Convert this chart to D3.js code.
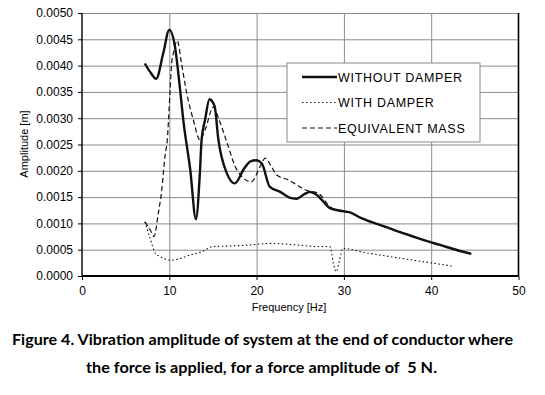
<!DOCTYPE html>
<html>
<head>
<meta charset="utf-8">
<script src="https://cdn.jsdelivr.net/npm/d3@7"></script>
<style>
  body { margin: 0; background: #fff; }
  svg { display: block; }
  .tick text { font-family: "Liberation Sans", Arial, sans-serif; font-size: 12px; fill: #000; }
  .caption { white-space: pre; }
</style>
</head>
<body>
<svg width="545" height="395"></svg>
<script>
// series: frequency [Hz] and amplitude [m]
const noDamperF = [7.2, 7.8, 8.5, 9.3, 10.0, 10.65, 11.2, 11.6, 12.4, 13.05, 13.5, 13.7, 14.1, 14.6, 15.2, 15.6, 16.6, 17.5, 18.6, 19.3, 20.0, 20.6, 21.5, 22.7, 24.0, 24.6, 25.4, 26.1, 26.9, 28.4, 29.6, 30.7, 32.0, 34.1, 36.0, 37.6, 39.0, 41.0, 43.0, 44.6];
const noDamperA = [0.00404, 0.00388, 0.00375, 0.00423, 0.00468, 0.00436, 0.0036, 0.00297, 0.00202, 0.00108, 0.00195, 0.00259, 0.00297, 0.00336, 0.00322, 0.00262, 0.00195, 0.00176, 0.00205, 0.00218, 0.0022, 0.00214, 0.0017, 0.0016, 0.00148, 0.00147, 0.00155, 0.0016, 0.00154, 0.00129, 0.00124, 0.00121, 0.0011, 0.00097, 0.00086, 0.00077, 0.00069, 0.00059, 0.00049, 0.00042];

const damperF = [7.2, 7.8, 8.4, 8.95, 10.1, 11.2, 12.4, 13.7, 15.0, 17.0, 19.2, 21.5, 24.6, 27.0, 28.4, 28.8, 29.1, 29.5, 29.9, 30.2, 30.7, 32.0, 34.1, 36.0, 37.95, 40.0, 42.35];
const damperA = [0.00103, 0.00072, 0.00043, 0.00037, 0.0003, 0.00033, 0.0004, 0.00046, 0.00056, 0.00057, 0.00059, 0.00062, 0.00059, 0.00056, 0.00056, 0.00024, 0.00008, 0.0003, 0.00053, 0.00052, 0.00051, 0.00046, 0.0004, 0.00035, 0.0003, 0.00025, 0.00019];

const equivF = [7.2, 7.8, 8.25, 8.74, 9.13, 9.5, 9.77, 10.08, 10.27, 10.46, 10.92, 11.4, 12.0, 12.75, 13.5, 14.1, 15.05, 15.7, 16.76, 17.5, 18.5, 19.4, 20.4, 21.0, 21.7, 22.3, 23.6, 25.7, 27.1, 28.4, 29.6, 30.7, 32.0, 34.1, 36.0, 37.6, 39.0, 41.0, 43.0, 44.6];
const equivA = [0.00103, 0.00088, 0.00075, 0.00119, 0.00163, 0.00227, 0.00259, 0.0035, 0.00404, 0.00423, 0.00447, 0.00404, 0.00347, 0.00297, 0.00259, 0.00278, 0.00321, 0.00297, 0.00246, 0.0021, 0.00186, 0.00179, 0.00208, 0.00224, 0.00208, 0.00192, 0.00183, 0.00163, 0.00157, 0.00132, 0.00123, 0.00121, 0.0011, 0.00097, 0.00086, 0.00077, 0.00069, 0.00059, 0.00049, 0.00042];

const xTicks = [0, 10, 20, 30, 40, 50];
const yTicks = [0, 0.0005, 0.001, 0.0015, 0.002, 0.0025, 0.003, 0.0035, 0.004, 0.0045, 0.005];

const legendLabels = ['WITHOUT DAMPER', 'WITH DAMPER', 'EQUIVALENT MASS'];
const captionLines = [
  'Figure 4. Vibration amplitude of system at the end of conductor where',
  'the force is applied, for a force amplitude of  5 N.'
];

const svg = d3.select('svg');
const margin = { top: 13, left: 82 };
const innerWidth = 436.5;
const innerHeight = 263;

const xScale = d3.scaleLinear().domain([0, 50]).range([0, innerWidth]);
const yScale = d3.scaleLinear().domain([0, 0.005]).range([innerHeight, 0]);

const g = svg.append('g')
    .attr('transform', `translate(${margin.left},${margin.top})`);

// grid
g.append('g')
    .selectAll('line.h').data(yTicks.slice(1))
  .enter().append('line')
    .attr('x1', 0).attr('x2', innerWidth)
    .attr('y1', d => yScale(d) + 0.5).attr('y2', d => yScale(d) + 0.5)
    .attr('stroke', '#8a8a8a').attr('stroke-width', 1);
g.append('g')
    .selectAll('line.v').data(xTicks.slice(1, -1))
  .enter().append('line')
    .attr('y1', 0).attr('y2', innerHeight)
    .attr('x1', d => xScale(d) + 0.5).attr('x2', d => xScale(d) + 0.5)
    .attr('stroke', '#8a8a8a').attr('stroke-width', 1);

// right frame
g.append('line')
    .attr('x1', innerWidth).attr('x2', innerWidth)
    .attr('y1', 0).attr('y2', innerHeight)
    .attr('stroke', '#000').attr('stroke-width', 1.6);

// axes
const xAxis = d3.axisBottom(xScale).tickValues(xTicks).tickSize(4).tickPadding(4).tickFormat(d3.format('d'));
const yAxis = d3.axisLeft(yScale).tickValues(yTicks).tickSize(4).tickPadding(5).tickFormat(d3.format('.4f'));

const xAxisG = g.append('g')
    .attr('transform', `translate(0,${innerHeight})`)
    .call(xAxis);
xAxisG.select('.domain').attr('stroke-width', 1.8).attr('d', `M0,0H${innerWidth}`);
xAxisG.selectAll('.tick text').attr('dy', '0.95em');

const yAxisG = g.append('g').call(yAxis);
yAxisG.select('.domain').attr('stroke-width', 1.4).attr('d', `M0,0V${innerHeight}`);

// series
const line = d3.line()
    .x(d => xScale(d[0]))
    .y(d => yScale(d[1]))
    .curve(d3.curveMonotoneX);

const series = [
  { f: damperF, a: damperA, width: 1.1, dash: '1.5,2.5' },
  { f: equivF, a: equivA, width: 1.2, dash: '5,3' },
  { f: noDamperF, a: noDamperA, width: 2.4, dash: null }
];

g.selectAll('path.series').data(series)
  .enter().append('path')
    .attr('class', 'series')
    .attr('d', s => line(s.f.map((f, i) => [f, s.a[i]])))
    .attr('fill', 'none')
    .attr('stroke', '#111')
    .attr('stroke-width', s => s.width)
    .attr('stroke-dasharray', s => s.dash);

// legend
const legend = svg.append('g').attr('transform', 'translate(287,63)');
legend.append('rect')
    .attr('width', 193).attr('height', 79)
    .attr('fill', '#fff').attr('stroke', '#888').attr('stroke-width', 1);
const legendStyles = [
  { width: 2.4, dash: null },
  { width: 1.1, dash: '1.5,2.5' },
  { width: 1.2, dash: '5,3' }
];
const rows = legend.selectAll('g.row').data(legendLabels)
  .enter().append('g')
    .attr('transform', (d, i) => `translate(0,${14 + i * 25.5})`);
rows.append('line')
    .attr('x1', 15).attr('x2', 50)
    .attr('stroke', '#111')
    .attr('stroke-width', (d, i) => legendStyles[i].width)
    .attr('stroke-dasharray', (d, i) => legendStyles[i].dash);
rows.append('text')
    .attr('x', 51).attr('y', 4.5)
    .attr('font-family', '"Liberation Sans", Arial, sans-serif')
    .attr('font-size', 12.5)
    .attr('letter-spacing', 0.7)
    .text(d => d);

// axis titles
svg.append('text')
    .attr('x', 289).attr('y', 311)
    .attr('text-anchor', 'middle')
    .attr('font-family', '"Liberation Sans", Arial, sans-serif')
    .attr('font-size', 11)
    .text('Frequency [Hz]');
svg.append('text')
    .attr('transform', 'translate(28,144) rotate(-90)')
    .attr('text-anchor', 'middle')
    .attr('font-family', '"Liberation Sans", Arial, sans-serif')
    .attr('font-size', 11)
    .text('Amplitude [m]');

// caption
const captionWidths = [501, 351];
svg.selectAll('text.caption').data(captionLines)
  .enter().append('text')
    .attr('class', 'caption')
    .attr('x', (d, i) => i === 0 ? 12 : 86)
    .attr('y', (d, i) => i === 0 ? 345 : 373)
    .attr('font-family', 'Lato, "Open Sans", sans-serif')
    .attr('font-weight', 'bold')
    .attr('font-size', 15.5)
    .attr('textLength', (d, i) => captionWidths[i])
    .attr('lengthAdjust', 'spacingAndGlyphs')
    .text(d => d);
</script>
</body>
</html>
